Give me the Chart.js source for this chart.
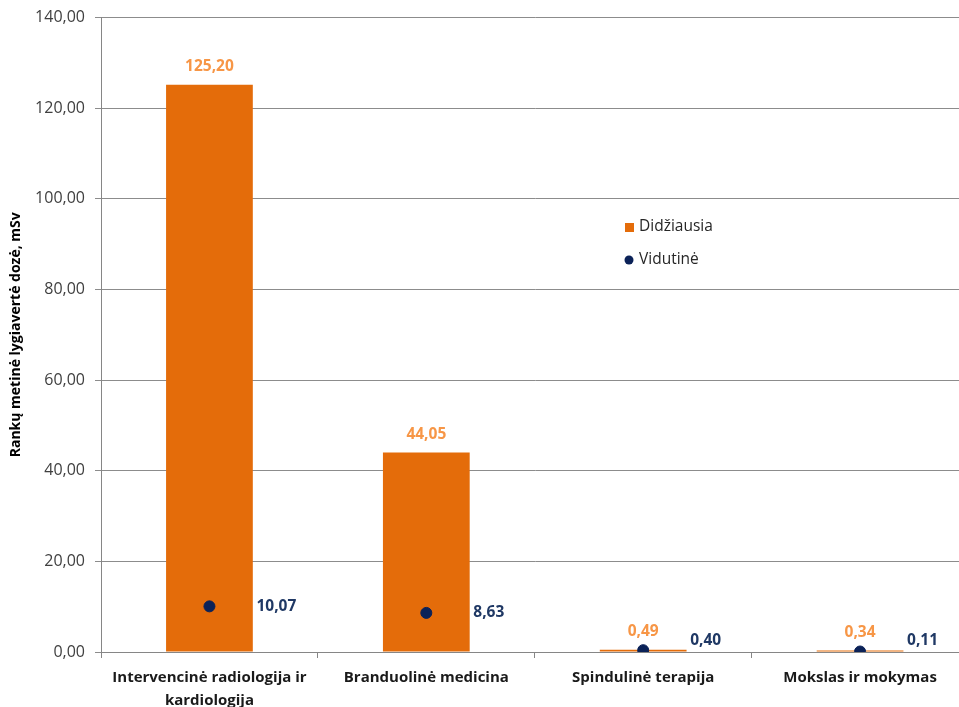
<!DOCTYPE html>
<html>
<head>
<meta charset="utf-8">
<script src="https://cdn.jsdelivr.net/npm/chart.js@4"></script>
<style>
  html, body { margin: 0; padding: 0; background: #fff; overflow: hidden; }
  #wrap { width: 975px; height: 709px; margin-top: -2px; }
</style>
</head>
<body>
<div id="wrap"><canvas id="doseChart"></canvas></div>
<script>
const categories = [
  ['Intervencinė radiologija ir', 'kardiologija'],
  'Branduolinė medicina',
  'Spindulinė terapija',
  'Mokslas ir mokymas'
];
const maxDose = [125.20, 44.05, 0.49, 0.34];
const avgDose = [10.07, 8.63, 0.40, 0.11];
const seriesNames = ['Didžiausia', 'Vidutinė'];
const axisTitle = 'Rankų metinė lygiavertė dozė, mSv';

const fmt = v => v.toFixed(2).replace('.', ',');
const baseFont = '"Open Sans", "Noto Sans", sans-serif';

// value labels: orange above the bars, blue to the right of the dots
const valueLabels = {
  id: 'valueLabels',
  afterDatasetsDraw(chart) {
    const ctx = chart.ctx;
    const bottom = chart.chartArea.bottom;
    ctx.save();
    ctx.font = 'bold 15.5px ' + baseFont;
    ctx.textBaseline = 'middle';
    chart.getDatasetMeta(0).data.forEach((bar, i) => {
      ctx.fillStyle = '#F79646';
      ctx.textAlign = 'center';
      ctx.fillText(fmt(maxDose[i]), bar.x, bar.y - 18);
    });
    chart.getDatasetMeta(1).data.forEach((pt, i) => {
      ctx.fillStyle = '#1F3864';
      ctx.textAlign = 'left';
      ctx.fillText(fmt(avgDose[i]), pt.x + 47, Math.min(pt.y, bottom - 11));
    });
    ctx.restore();
  }
};

// legend inside the plot area
const innerLegend = {
  id: 'innerLegend',
  afterDraw(chart) {
    const ctx = chart.ctx;
    const x = 625, y0 = 229, gap = 33;
    ctx.save();
    ctx.font = '15.5px ' + baseFont;
    ctx.textBaseline = 'middle';
    ctx.textAlign = 'left';
    chart.data.datasets.forEach((ds, i) => {
      const y = y0 + i * gap;
      ctx.fillStyle = ds.backgroundColor;
      if (i === 0) {
        ctx.fillRect(x, y - 4, 9, 9);
      } else {
        ctx.beginPath();
        ctx.arc(x + 4, y, 4.5, 0, Math.PI * 2);
        ctx.fill();
      }
      ctx.fillStyle = '#262626';
      ctx.fillText(ds.label, x + 14, y);
    });
    ctx.restore();
  }
};

new Chart(document.getElementById('doseChart'), {
  type: 'bar',
  data: {
    labels: categories,
    datasets: [
      {
        label: seriesNames[0],
        data: maxDose,
        backgroundColor: '#E46C0A',
        barPercentage: 0.4,
        categoryPercentage: 1.0,
        order: 2
      },
      {
        type: 'line',
        label: seriesNames[1],
        data: avgDose,
        showLine: false,
        backgroundColor: '#0B2258',
        borderColor: '#0B2258',
        pointRadius: 5.5,
        pointHoverRadius: 5.5,
        order: 1
      }
    ]
  },
  plugins: [valueLabels, innerLegend],
  options: {
    responsive: true,
    maintainAspectRatio: false,
    animation: false,
    layout: { padding: { top: 17, right: 1, left: 0, bottom: 0 } },
    plugins: {
      legend: { display: false },
      tooltip: { enabled: false }
    },
    scales: {
      x: {
        offset: true,
        grid: {
          offset: true,
          drawOnChartArea: false,
          drawTicks: true,
          tickLength: 6,
          color: '#868686'
        },
        border: { color: '#868686', width: 1 },
        ticks: {
          color: '#1a1a1a',
          font: { family: baseFont, size: 15, weight: 'bold', lineHeight: 1.55 },
          maxRotation: 0,
          autoSkip: false,
          padding: 8
        },
        afterFit(scale) { scale.height = 55; }
      },
      y: {
        min: 0,
        max: 140,
        ticks: {
          stepSize: 20,
          color: '#404040',
          font: { family: baseFont, size: 16 },
          padding: 10,
          callback: v => fmt(v)
        },
        grid: {
          color: '#8c8c8c',
          tickLength: 6,
          drawTicks: true
        },
        border: { color: '#868686', width: 1 },
        title: {
          display: true,
          text: axisTitle,
          color: '#000',
          font: { family: baseFont, size: 14, weight: 'bold' },
          padding: { top: 8, bottom: 4 }
        },
        afterFit(scale) { scale.width = 101; }
      }
    }
  }
});
</script>
</body>
</html>
